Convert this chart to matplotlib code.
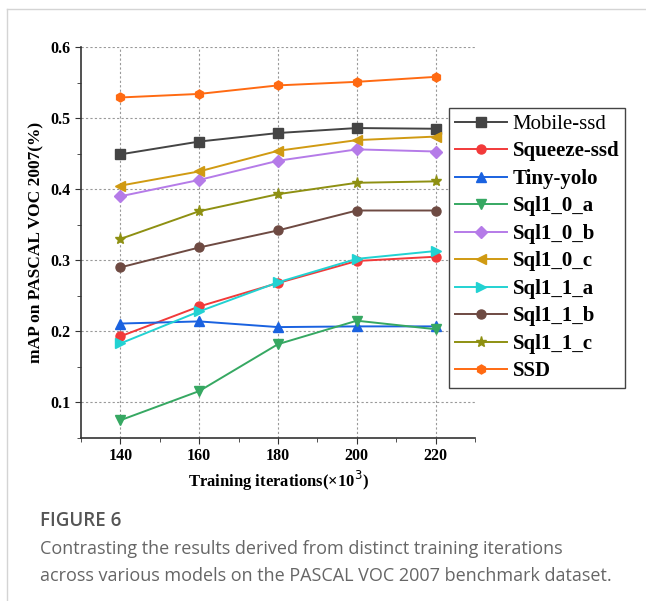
import matplotlib
matplotlib.use('Agg')
import matplotlib.pyplot as plt
from matplotlib.lines import Line2D
from matplotlib.ticker import MultipleLocator

# Training iterations (x10^3)
iterations = [140, 160, 180, 200, 220]

# mAP per model
mobile_ssd  = [0.449, 0.467, 0.479, 0.486, 0.485]
squeeze_ssd = [0.193, 0.235, 0.268, 0.299, 0.305]
tiny_yolo   = [0.211, 0.214, 0.206, 0.207, 0.207]
sql_0_a     = [0.075, 0.116, 0.182, 0.215, 0.203]
sql_0_b     = [0.390, 0.413, 0.440, 0.456, 0.453]
sql_0_c     = [0.405, 0.425, 0.454, 0.469, 0.474]
sql_1_a     = [0.183, 0.228, 0.269, 0.302, 0.313]
sql_1_b     = [0.290, 0.318, 0.342, 0.370, 0.370]
sql_1_c     = [0.330, 0.369, 0.393, 0.409, 0.411]
ssd         = [0.529, 0.534, 0.546, 0.551, 0.558]

names  = ['Mobile-ssd', 'Squeeze-ssd', 'Tiny-yolo', 'Sql1_0_a', 'Sql1_0_b',
          'Sql1_0_c', 'Sql1_1_a', 'Sql1_1_b', 'Sql1_1_c', 'SSD']
series = [mobile_ssd, squeeze_ssd, tiny_yolo, sql_0_a, sql_0_b,
          sql_0_c, sql_1_a, sql_1_b, sql_1_c, ssd]

COLORS  = ['#444444', '#f23a3a', '#1a62e0', '#36a862', '#b57be8',
           '#d09a12', '#22d2d2', '#6e4a42', '#8e9012', '#ff6a12']
MARKERS = ['s', 'o', '^', 'v', 'D', '<', '>', 'o', '*', 'h']
SERIF   = 'Liberation Serif'

W, H = 646, 601
fig = plt.figure(figsize=(W / 100, H / 100), dpi=100)

# thin page border, top and left
fig.add_artist(Line2D([7 / W, 7 / W], [0, 1 - 9 / H], color='#d4d4d4', lw=1.0))
fig.add_artist(Line2D([7 / W, 1], [1 - 9 / H, 1 - 9 / H], color='#d4d4d4', lw=1.0))

ax = fig.add_axes([81 / W, 1 - 438 / H, (475 - 81) / W, (438 - 47) / H])

for name, vals, c, m in zip(names, series, COLORS, MARKERS):
    ms = 8 if m == '*' else 6.5
    ax.plot(iterations, vals, color=c, marker=m, markersize=ms, lw=1.4, label=name)

ax.set_xlim(130, 230)
ax.set_ylim(0.05, 0.6)
ax.xaxis.set_minor_locator(MultipleLocator(10))
ax.yaxis.set_minor_locator(MultipleLocator(0.05))
ax.set_xticks([140, 160, 180, 200, 220])
ax.set_yticks([0.1, 0.2, 0.3, 0.4, 0.5, 0.6])

ax.grid(True, which='major', linestyle=(0, (2, 2)), color='#999999', lw=0.8)
for s in ['top', 'right']:
    ax.spines[s].set_visible(False)
for s in ['left', 'bottom']:
    ax.spines[s].set_color('#333333')
    ax.spines[s].set_linewidth(1.2)

ax.tick_params(which='both', direction='out', colors='#333333', labelcolor='black')
ax.tick_params(which='major', length=4)
ax.tick_params(which='minor', length=3)
for lab in ax.get_xticklabels() + ax.get_yticklabels():
    lab.set_fontfamily(SERIF)
    lab.set_fontweight('bold')
    lab.set_fontsize(11.5)

ax.set_xlabel('Training iterations(×10$^3$)', fontfamily=SERIF, fontweight='bold',
              fontsize=12, labelpad=3)
ax.set_ylabel('mAP on PASCAL VOC 2007(%)', fontfamily=SERIF, fontweight='bold',
              fontsize=12.5, labelpad=4)

leg = ax.legend(loc='upper left', bbox_to_anchor=(449 / W, 1 - 108 / H),
                bbox_transform=fig.transFigure, fancybox=False, framealpha=1,
                edgecolor='#444444', handlelength=2.5, handletextpad=0.25,
                labelspacing=0.36, borderpad=0.3, borderaxespad=0,
                prop={'family': SERIF, 'size': 15, 'weight': 'bold'})
leg.get_frame().set_linewidth(1.0)
leg.texts[0].set_fontweight('normal')

# caption
fig.text(40 / W, 1 - 521 / H, 'FIGURE 6', fontfamily='Open Sans', fontsize=13.5,
         fontweight='semibold', color='#555555', va='center')
fig.text(40 / W, 1 - 549 / H,
         'Contrasting the results derived from distinct training iterations',
         fontfamily='Open Sans', fontsize=13, color='#666666', va='center')
fig.text(40 / W, 1 - 576 / H,
         'across various models on the PASCAL VOC 2007 benchmark dataset.',
         fontfamily='Open Sans', fontsize=13, color='#666666', va='center')

fig.savefig('out.png', dpi=100)
